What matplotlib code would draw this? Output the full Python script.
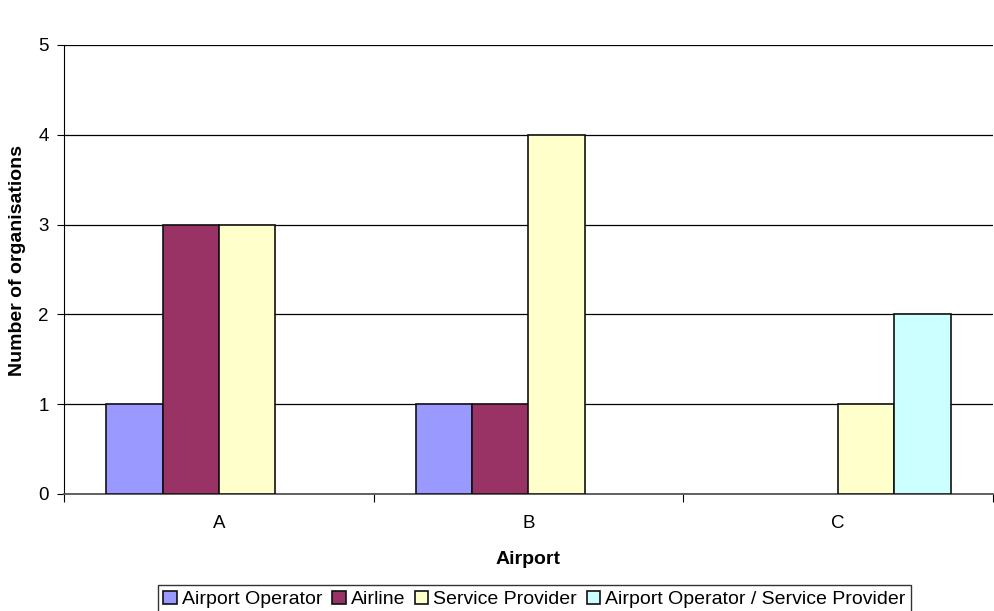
import matplotlib
matplotlib.use("Agg")
import matplotlib.pyplot as plt
import numpy as np

plt.rcParams['font.family'] = ['Liberation Sans', 'DejaVu Sans']

airports = ["A", "B", "C"]
series_names = ["Airport Operator", "Airline", "Service Provider",
                "Airport Operator / Service Provider"]
airport_operator = [1, 1, 0]
airline = [3, 1, 0]
service_provider = [3, 4, 1]
operator_provider = [0, 0, 2]
colors = ["#9999FF", "#993366", "#FFFFCC", "#CCFFFF"]

series = [airport_operator, airline, service_provider, operator_provider]

fig = plt.figure(figsize=(9.95, 6.11), dpi=100)
ax = fig.add_axes([64/995, 1-494/611, (993-64)/995, (494-45)/611])

n = len(series)
gap = 1.5
width = 1.0 / (n + gap)
x = np.arange(len(airports))
for i, (vals, c, name) in enumerate(zip(series, colors, series_names)):
    offs = (i - (n - 1) / 2) * width
    lw = [0 if v == 0 else 1.2 for v in vals]  # empty categories leave no outline
    ax.bar(x + offs, vals, width=width, color=c, edgecolor="#111111",
           linewidth=lw, zorder=3)
    ax.bar([np.nan], [np.nan], width=width, color=c, edgecolor="#111111",
           linewidth=1.2, label=name)

ax.set_xlim(-0.5, len(airports) - 0.5)
ax.set_ylim(0, 5)
ax.set_yticks(range(0, 6))
ax.yaxis.grid(True, color="black", linewidth=0.9, zorder=0)
ax.set_axisbelow(True)

ax.set_xticks(x)
ax.set_xticklabels(airports)
ax.tick_params(axis='x', length=0, pad=15, labelsize=13.5)
ax.set_xticks(np.arange(-0.5, len(airports)), minor=True)
ax.tick_params(axis='x', which='minor', length=6, width=0.8, color="black", direction='out')
ax.tick_params(axis='y', length=5, width=0.8, direction='out', labelsize=13.5, pad=6)

for s in ["top", "right"]:
    ax.spines[s].set_visible(False)
ax.spines["left"].set_color("black")
ax.spines["bottom"].set_color("#555555")
ax.spines["bottom"].set_linewidth(1.3)

ax.set_ylabel("Number of organisations", fontsize=14, fontweight="bold")
ax.yaxis.set_label_coords(-0.041, 0.52)
ax.set_xlabel("Airport", fontsize=14, fontweight="bold", labelpad=14)

leg = fig.legend(loc="upper center", bbox_to_anchor=(534.5/995, 1-585/611),
                 ncol=4, fontsize=14, frameon=True, fancybox=False,
                 handlelength=0.7, handleheight=0.7, handletextpad=0.25,
                 columnspacing=0.5, borderpad=0.3, borderaxespad=0,
                 edgecolor="black")
leg.get_frame().set_linewidth(1.0)

fig.savefig("out.png", dpi=100)
